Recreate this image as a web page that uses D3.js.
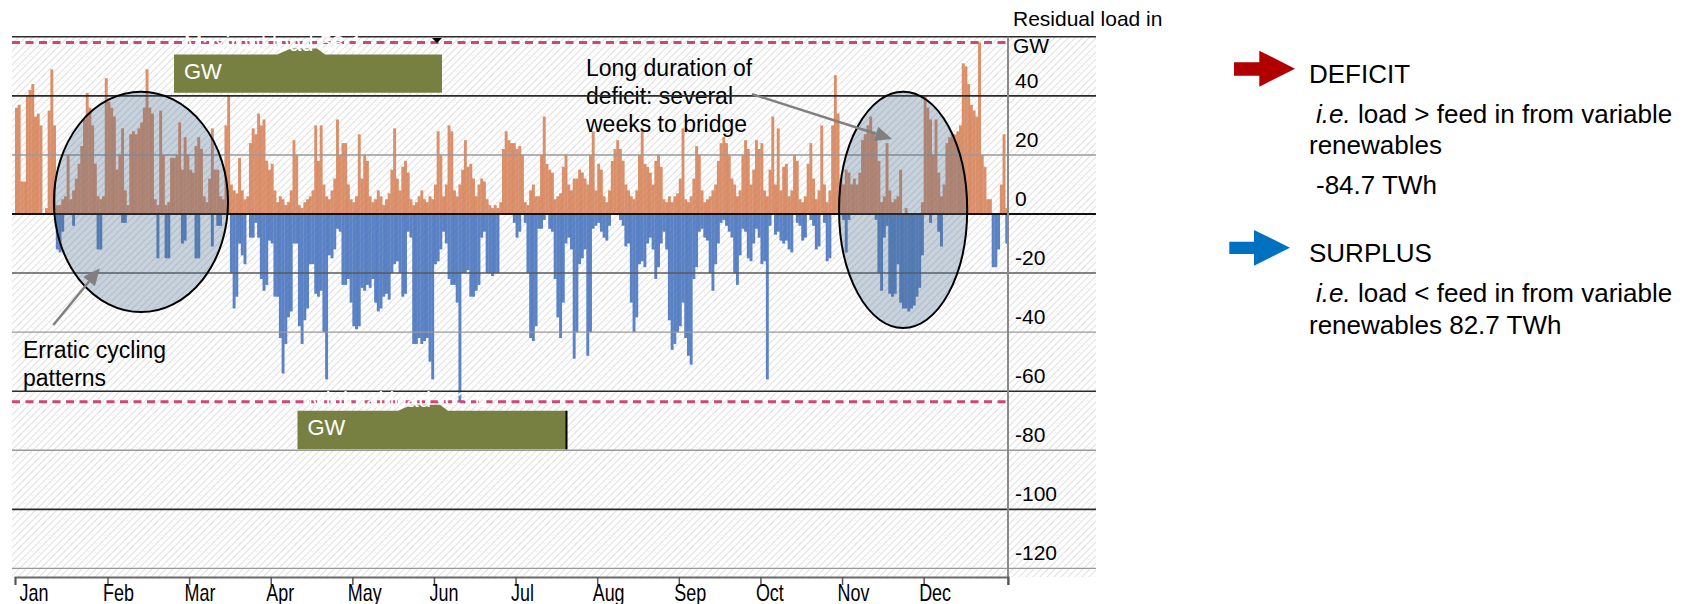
<!DOCTYPE html>
<html>
<head>
<meta charset="utf-8">
<script src="https://cdnjs.cloudflare.com/ajax/libs/d3/7.8.5/d3.min.js"></script>
<style>
body { margin: 0; background: #fff; }
svg { display: block; font-family: "Liberation Sans", Arial, sans-serif; }
</style>
</head>
<body>
<svg id="chart" width="1685" height="604"></svg>
<script>
var months = ['Jan', 'Feb', 'Mar', 'Apr', 'May', 'Jun', 'Jul', 'Aug', 'Sep', 'Oct', 'Nov', 'Dec'];
var monthTickDays = [0, 34, 64, 94, 124, 154, 184, 214, 244, 274, 304, 334];
var yearDays = 365;
var yTicks = [40, 20, 0, -20, -40, -60, -80, -100, -120];
var gridValues = [60, 40, 20, 0, -20, -40, -60, -80, -100, -120];
var maxLoad = 58.1, minLoad = -63.6;
var deficitTWh = '-84.7', surplusTWh = '82.7';

// daily peak residual load above zero (GW)
var deficitGW = [
    36, 37, 11, 11, 40, 42, 44, 33, 34, 30,
    0, 2, 35, 49, 30, 3, 3, 5, 6, 20,
    5, 8, 12, 17, 23, 32, 41, 36, 30, 17,
    6, 5, 6, 46, 38, 36, 33, 15, 20, 29,
    8, 3, 27, 28, 27, 29, 31, 36, 49, 36,
    34, 5, 3, 35, 20, 3, 4, 19, 19, 20,
    31, 15, 26, 20, 15, 14, 23, 26, 22, 6,
    4, 12, 29, 15, 15, 6, 5, 30, 40, 10,
    8, 7, 19, 8, 5, 6, 24, 29, 27, 34,
    30, 32, 18, 15, 17, 8, 4, 6, 5, 3,
    4, 8, 25, 20, 3, 2, 4, 5, 6, 8,
    30, 18, 30, 10, 6, 5, 8, 12, 32, 20,
    24, 24, 10, 5, 4, 6, 27, 12, 20, 18,
    6, 4, 5, 8, 6, 3, 5, 7, 15, 29,
    12, 8, 16, 18, 14, 5, 3, 4, 6, 8,
    5, 4, 6, 5, 10, 28, 20, 6, 10, 30,
    28, 8, 6, 10, 15, 25, 16, 17, 12, 6,
    10, 12, 11, 5, 3, 2, 3, 2, 4, 22,
    28, 25, 24, 24, 22, 23, 20, 4, 3, 8,
    10, 6, 6, 20, 33, 17, 15, 14, 5, 6,
    7, 16, 20, 10, 8, 12, 12, 15, 14, 12,
    10, 20, 28, 8, 17, 15, 6, 4, 8, 18,
    22, 25, 22, 18, 10, 8, 6, 5, 8, 20,
    29, 17, 16, 14, 10, 18, 20, 16, 5, 4,
    6, 4, 6, 7, 12, 29, 5, 4, 6, 12,
    23, 20, 8, 4, 5, 6, 8, 10, 18, 24,
    26, 24, 20, 12, 10, 6, 8, 20, 25, 22,
    10, 15, 25, 22, 24, 8, 6, 15, 33, 10,
    29, 8, 16, 17, 6, 8, 20, 18, 5, 4,
    6, 17, 24, 12, 5, 8, 30, 10, 4, 8,
    30, 47, 34, 12, 10, 15, 14, 10, 12, 10,
    14, 25, 27, 30, 33, 28, 25, 18, 4, 6,
    24, 8, 4, 5, 6, 15, 0, 2, 0, 0,
    0, 0, 0, 4, 40, 36, 32, 20, 32, 14,
    6, 10, 24, 26, 27, 27, 28, 30, 51, 50,
    44, 37, 35, 33, 58.1, 20, 16, 5, 5, 0,
    0, 0, 10, 27, 2
];

// daily lowest residual load below zero (GW)
var surplusGW = [
    0, 0, 0, 0, 0, 0, 0, 0, 0, 0,
    0, 0, 0, 0, 0, -12, -13, -6, 0, 0,
    0, -4, 0, 0, 0, 0, 0, 0, 0, 0,
    -12, -12, 0, 0, 0, 0, 0, 0, 0, -3,
    -3, 0, 0, 0, 0, 0, 0, 0, 0, 0,
    0, 0, -15, 0, 0, -15, -15, 0, 0, 0,
    0, -10, -9, 0, 0, 0, -15, -15, 0, 0,
    0, 0, -11, 0, -4, -4, 0, 0, 0, -20,
    -32, -28, -10, -14, -17, 0, -8, -8, -3, -8,
    -22, -26, -24, -9, -10, -28, -28, -42, -54, -44,
    -35, -33, -10, -10, -38, -44, -36, -32, -17, -17,
    -27, -28, -26, -40, -56, -14, -15, -12, -5, -6,
    -24, -24, -22, -30, -38, -39, -38, -25, -26, -24,
    -25, -22, -30, -33, -32, -28, -27, -29, -20, -17,
    -16, -20, -28, -27, -6, -8, -44, -44, -42, -44,
    -43, -42, -50, -56, -17, -16, -12, -6, -10, -22,
    -24, -24, -30, -63.6, -20, -20, -19, -28, -28, -26,
    -24, -8, -6, -20, -20, -21, -20, -20, 0, 0,
    0, 0, 0, -3, -8, -6, 0, -3, -20, -42,
    -43, -38, -5, -5, -2, 0, -5, -6, -22, -35,
    -42, -30, -10, -8, -12, -49, -40, -17, -15, -12,
    -48, -40, -5, -4, -3, -6, -8, -9, -4, 0,
    0, 0, -2, -4, -11, -10, -30, -40, -35, -17,
    -16, -18, -10, -8, -12, -22, -18, -10, -6, -12,
    -36, -46, -44, -40, -38, -30, -42, -48, -51, -22,
    -18, -6, -5, -8, -9, -20, -26, -17, -10, -3,
    -2, -4, -6, -8, -20, -24, -14, -5, -6, -15,
    -16, -10, -5, -8, -17, -16, -56, -4, 0, -7,
    -6, -9, -10, -9, -12, -13, 0, -3, -4, -9,
    -8, 0, -2, -4, -12, -11, 0, -3, -16, -15,
    0, 0, 0, 0, -2, -13, -2, 0, 0, 0,
    0, 0, 0, 0, 0, 0, -2, -20, -26, -8,
    -4, -27, -28, -27, -17, -30, -32, -32, -33, -32,
    -31, -28, -25, -14, 0, 0, -3, 0, 0, -6,
    -11, 0, 0, 0, 0, 0, 0, 0, 0, 0,
    0, 0, 0, 0, 0, 0, 0, 0, 0, -18,
    -18, -12, 0, 0, -10
];

var svg = d3.select('#chart');

var x = d3.scaleLinear().domain([0, yearDays]).range([15, 1008]);
var y = d3.scaleLinear().domain([-120, 60]).range([568.4, 36.8]);
var axisY = 577;

var defs = svg.append('defs');
var pat = defs.append('pattern')
    .attr('id', 'hatch')
    .attr('patternUnits', 'userSpaceOnUse')
    .attr('width', 7).attr('height', 7);
pat.append('rect').attr('width', 7).attr('height', 7).attr('fill', '#fff');
pat.append('path')
    .attr('d', 'M-1,1 l2,-2 M0,7 l7,-7 M6,8 l2,-2')
    .attr('stroke', '#e3e3e3')
    .attr('stroke-width', 1.2);

svg.append('rect')
    .attr('x', 12).attr('y', y(60))
    .attr('width', 1096 - 12).attr('height', axisY - y(60))
    .attr('fill', 'url(#hatch)');

// bars
var dayW = x(1) - x(0);
svg.append('g').selectAll('rect')
    .data(deficitGW)
    .enter().append('rect')
    .attr('x', function(d, i) { return x(i); })
    .attr('width', dayW + 0.2)
    .attr('y', function(d) { return y(d); })
    .attr('height', function(d) { return y(0) - y(d); })
    .attr('fill', '#d3794c')
    .attr('opacity', 0.82);

svg.append('g').selectAll('rect')
    .data(surplusGW)
    .enter().append('rect')
    .attr('x', function(d, i) { return x(i); })
    .attr('width', dayW + 0.2)
    .attr('y', y(0))
    .attr('height', function(d) { return y(d) - y(0); })
    .attr('fill', '#3f6dbb')
    .attr('opacity', 0.85);

// annotation text (gridlines run over it)
var note = svg.append('g').attr('font-size', '23px').attr('fill', '#000');
note.append('text').attr('x', 586).attr('y', 76).text('Long duration of');
note.append('text').attr('x', 586).attr('y', 104).text('deficit: several');
note.append('text').attr('x', 586).attr('y', 132).text('weeks to bridge');
note.append('text').attr('x', 23).attr('y', 358).text('Erratic cycling');
note.append('text').attr('x', 23).attr('y', 386).text('patterns');

// gridlines
var darkLines = [60, 40, -60, -100];
svg.append('g').selectAll('line')
    .data(gridValues.filter(function(v) { return v !== 0; }))
    .enter().append('line')
    .attr('x1', 12).attr('x2', 1096)
    .attr('y1', function(v) { return y(v); })
    .attr('y2', function(v) { return y(v); })
    .attr('stroke', function(v) {
        if (darkLines.indexOf(v) >= 0) return '#2b2b2b';
        if (v === -20) return '#5a5a5a';
        return '#9a9a9a';
    })
    .attr('stroke-width', function(v) { return darkLines.indexOf(v) >= 0 ? 1.6 : 1.4; });

svg.append('line')
    .attr('x1', 12).attr('x2', 1096)
    .attr('y1', y(0)).attr('y2', y(0))
    .attr('stroke', '#111').attr('stroke-width', 2);

// max / min load reference lines
svg.append('g').selectAll('line')
    .data([maxLoad, minLoad])
    .enter().append('line')
    .attr('x1', 12).attr('x2', 1008)
    .attr('y1', function(v) { return y(v); })
    .attr('y2', function(v) { return y(v); })
    .attr('stroke', '#cf4677')
    .attr('stroke-width', 3)
    .attr('stroke-dasharray', '8,5.5');

// highlight ellipses, given in days / GW
var ellipses = [
    {d0: 14.3, d1: 78.3, top: 41.4, bottom: -33.2},
    {d0: 302.9, d1: 350.0, top: 41.4, bottom: -38.6}
];
svg.append('g').selectAll('ellipse')
    .data(ellipses)
    .enter().append('ellipse')
    .attr('cx', function(e) { return (x(e.d0) + x(e.d1)) / 2; })
    .attr('cy', function(e) { return (y(e.top) + y(e.bottom)) / 2; })
    .attr('rx', function(e) { return (x(e.d1) - x(e.d0)) / 2; })
    .attr('ry', function(e) { return (y(e.bottom) - y(e.top)) / 2; })
    .attr('fill', '#46698c')
    .attr('fill-opacity', 0.3)
    .attr('stroke', '#000')
    .attr('stroke-width', 2);

// pointer arrows
var arrows = [
    {from: [14.1, -37.6], to: [31.2, -18.4]},
    {from: [270.9, 40.6], to: [322.4, 25.4]}
];
arrows.forEach(function(a) {
    var x1 = x(a.from[0]), y1 = y(a.from[1]), x2 = x(a.to[0]), y2 = y(a.to[1]);
    var ang = Math.atan2(y2 - y1, x2 - x1);
    var len = 17, half = 7.5;
    var bx = x2 - len * Math.cos(ang), by = y2 - len * Math.sin(ang);
    svg.append('line')
        .attr('x1', x1).attr('y1', y1).attr('x2', bx).attr('y2', by)
        .attr('stroke', '#808080').attr('stroke-width', 2.5);
    svg.append('path')
        .attr('d', 'M' + x2 + ',' + y2 +
            'L' + (bx + half * Math.sin(ang)) + ',' + (by - half * Math.cos(ang)) +
            'L' + (bx - half * Math.sin(ang)) + ',' + (by + half * Math.cos(ang)) + 'Z')
        .attr('fill', '#808080');
});

// callout boxes for max / min load
function callout(x0, x1, top, bottom, bumpA, bumpB, label) {
    var g = svg.append('g');
    g.append('path')
        .attr('d', 'M' + x0 + ',' + top + 'L' + bumpA + ',' + top +
            'L' + (bumpA + 14) + ',' + (top - 6) + 'L' + (bumpB - 8) + ',' + (top - 6) +
            'L' + bumpB + ',' + top + 'L' + x1 + ',' + top +
            'L' + x1 + ',' + bottom + 'L' + x0 + ',' + bottom + 'Z')
        .attr('fill', '#778040');
    g.append('text')
        .attr('x', x0 + 10).attr('y', top - 4)
        .attr('font-size', '22px').attr('fill', '#fff')
        .text(label);
    g.append('text')
        .attr('x', x0 + 10).attr('y', top + 24)
        .attr('font-size', '22px').attr('fill', '#fff')
        .text('GW');
    return g;
}
callout(174, 442, 54.5, 92.7, 277, 325, 'Maximal load ' + maxLoad.toFixed(1));
var minBox = callout(297.5, 566.5, 410.7, 449.3, 398, 448, 'Minimal load ' + minLoad.toFixed(1));
minBox.append('line')
    .attr('x1', 566.5).attr('x2', 566.5).attr('y1', 410.7).attr('y2', 449.3)
    .attr('stroke', '#000').attr('stroke-width', 2);

svg.append('path')
    .attr('d', 'M432,38 L442,38 L437,43 Z')
    .attr('fill', '#000');

// right value axis
svg.append('line')
    .attr('x1', 1008).attr('x2', 1008)
    .attr('y1', y(60)).attr('y2', axisY + 8)
    .attr('stroke', '#8a8a8a').attr('stroke-width', 2);

svg.append('g').selectAll('text')
    .data(yTicks)
    .enter().append('text')
    .attr('x', 1015)
    .attr('y', function(v) { return y(v) - 8; })
    .attr('font-size', '21px')
    .attr('fill', '#000')
    .text(function(v) { return v; });

svg.append('text').attr('x', 1013).attr('y', 26).attr('font-size', '21px').text('Residual load in');
svg.append('text').attr('x', 1013).attr('y', 52.5).attr('font-size', '21px').text('GW');

// month axis
var xAxis = d3.axisBottom(x)
    .tickValues(monthTickDays.concat([yearDays]))
    .tickSize(8)
    .tickFormat(function(d, i) { return months[i] || ''; });

var xg = svg.append('g')
    .attr('transform', 'translate(0,' + axisY + ')')
    .call(xAxis);
xg.select('.domain').attr('stroke', '#6a6a6a').attr('stroke-width', 2);
xg.selectAll('.tick line').attr('stroke', '#555').attr('stroke-width', 1.5);
xg.selectAll('.tick text')
    .attr('text-anchor', 'start')
    .attr('dy', null)
    .attr('y', 0)
    .attr('fill', '#000')
    .attr('font-size', '23px')
    .attr('font-family', '"Liberation Sans", Arial, sans-serif')
    .attr('transform', function(d, i) { return 'translate(' + (i === 0 ? 4 : -5) + ',24) scale(0.78,1)'; });

// legend
var legend = svg.append('g').attr('font-size', '26px').attr('fill', '#000');
legend.append('path')
    .attr('d', 'M1234,62.3 L1259.3,62.3 L1259.3,50.7 L1295,68.7 L1259.3,86.7 L1259.3,75.7 L1234,75.7 Z')
    .attr('fill', '#b00000');
legend.append('text').attr('x', 1309).attr('y', 83).text('DEFICIT');
var t1 = legend.append('text').attr('x', 1316).attr('y', 122.7);
t1.append('tspan').attr('font-style', 'italic').text('i.e.');
t1.append('tspan').text(' load > feed in from variable');
legend.append('text').attr('x', 1309).attr('y', 154).text('renewables');
legend.append('text').attr('x', 1316).attr('y', 194).text(deficitTWh + ' TWh');

legend.append('path')
    .attr('d', 'M1229.3,241.7 L1254,241.7 L1254,230 L1290,247.7 L1254,265.7 L1254,254 L1229.3,254 Z')
    .attr('fill', '#0070c0');
legend.append('text').attr('x', 1309).attr('y', 262.3).text('SURPLUS');
var t2 = legend.append('text').attr('x', 1316).attr('y', 301.7);
t2.append('tspan').attr('font-style', 'italic').text('i.e.');
t2.append('tspan').text(' load < feed in from variable');
legend.append('text').attr('x', 1309).attr('y', 334).text('renewables ' + surplusTWh + ' TWh');
</script>
</body>
</html>
